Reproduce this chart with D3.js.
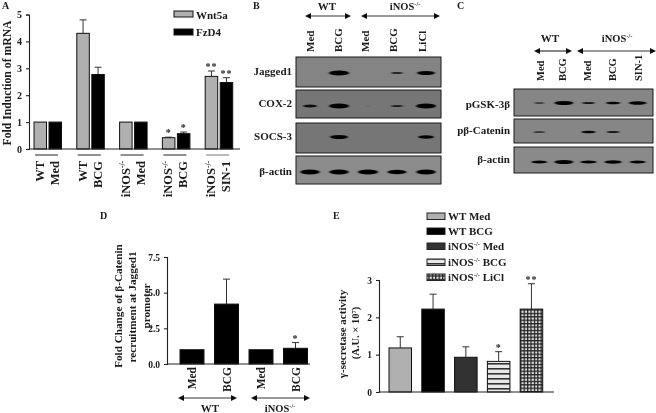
<!DOCTYPE html>
<html><head><meta charset="utf-8">
<script src="https://cdn.jsdelivr.net/npm/d3@7"></script>
<style>
html,body{margin:0;padding:0;background:#fff}
svg{display:block}
text{font-family:"Liberation Serif",serif;font-weight:bold;fill:#1a1a1a}
</style></head><body><svg id="c" width="656" height="413"></svg>
<script>
// Panel A
const groupsA = ["WT|Med","WT|BCG","iNOS|Med","iNOS|BCG","iNOS|SIN-1"];
const wnt5a = [1,4.3,1,0.42,2.7];
const wnt5aErr = [0,0.5,0,0.02,0.2];
const fzd4 = [1,2.77,1,0.57,2.47];
const fzd4Err = [0,0.27,0,0.06,0.18];
const starsWnt = ["","","","*","**"];
const starsFzd = ["","","","*","**"];
const ticksA = [0,1,2,3,4,5];
// Panel B blot intensities by lane
const lanesB = ["Med","BCG","Med","BCG","LiCl"];
const rowsB = ["Jagged1","COX-2","SOCS-3","β-actin"];
const jagged1 = [0,1,0,0.35,0.8];
const cox2 = [0.5,1,0.04,0.35,1];
const socs3 = [0,0.8,0,0,0.6];
const actinB = [0.95,0.95,1,0.9,0.95];
// Panel C blot intensities by lane
const lanesC = ["Med","BCG","Med","BCG","SIN-1"];
const rowsC = ["pGSK-3β","pβ-Catenin","β-actin"];
const pgsk = [0.3,1,0.45,0.55,0.85];
const pcat = [0.35,0,0.55,0.45,0];
const actinC = [0.7,1,0.75,0.8,0.7];
// Panel D
const lanesD = ["Med","BCG","Med","BCG"];
const valuesD = [1,4.2,1,1.1];
const errD = [0,1.75,0,0.4];
const starsD = ["","","","*"];
const ticksD = [0,2.5,5,7.5];
// Panel E
const seriesE = ["WT Med","WT BCG","iNOS Med","iNOS BCG","iNOS LiCl"];
const valuesE = [1.18,2.22,0.93,0.82,2.22];
const errE = [0.3,0.4,0.28,0.26,0.68];
const starsE = ["","","","*","**"];
const ticksE = [0,1,2,3];

const svg = d3.select("#c");
const defs = svg.append("defs");
const blur = (id,s)=>defs.append("filter").attr("id",id).attr("x","-40%").attr("y","-100%").attr("width","180%").attr("height","300%")
  .append("feGaussianBlur").attr("stdDeviation",s);
blur("b1","1.1 0.7"); 
defs.append("filter").attr("id","soft").attr("filterUnits","userSpaceOnUse").attr("x",0).attr("y",0).attr("width",656).attr("height",413)
  .append("feGaussianBlur").attr("stdDeviation",0.4);
const ph = defs.append("pattern").attr("id","hl").attr("width",6).attr("height",5).attr("patternUnits","userSpaceOnUse");
ph.append("rect").attr("width",6).attr("height",5).attr("fill","#e8e8e8");
ph.append("rect").attr("y",3).attr("width",6).attr("height",1.6).attr("fill","#333");
const pg = defs.append("pattern").attr("id","gr").attr("width",3.4).attr("height",3.4).attr("patternUnits","userSpaceOnUse");
pg.append("rect").attr("width",3.4).attr("height",3.4).attr("fill","#ddd");
pg.append("path").attr("d","M0 .6H3.4M.6 0V3.4").attr("stroke","#222").attr("stroke-width",1.3);
const root = svg.append("g").attr("filter","url(#soft)");

function label(g,x,y,s,size,anchor,rot){
  const t=g.append("text").attr("font-size",size).attr("text-anchor",anchor||"start")
   .attr("transform",`translate(${x},${y})`+(rot?` rotate(${rot})`:""));
  addRich(t,s,size); return t;
}
function addRich(t,s,size){
  const m=s.match(/^iNOS(.*)$/);
  if(m){
    t.append("tspan").text("iNOS");
    t.append("tspan").attr("font-size",size*0.6).attr("dy",-size*0.35).text("-/-");
    if(m[1]) t.append("tspan").attr("dy",size*0.35).text(m[1]);
  } else t.text(s);
}
function arrow(g,x1,x2,y){
  g.append("line").attr("x1",x1+3).attr("x2",x2-3).attr("y1",y).attr("y2",y).attr("stroke","#333").attr("stroke-width",1.2);
  g.append("path").attr("d",`M${x1} ${y}l6 -3v6zM${x2} ${y}l-6 -3v6z`).attr("fill","#111");
}
function bars(g,xs,y,vals,errs,fills,w,stars,starSize){
  vals.forEach((v,i)=>{
    const x=xs(i), b=y(0), t=y(v), e=y(v+errs[i]);
    if(errs[i]>0){
      g.append("line").attr("x1",x+w/2).attr("x2",x+w/2).attr("y1",t).attr("y2",e).attr("stroke","#333").attr("stroke-width",1);
      g.append("line").attr("x1",x+w/2-3.5).attr("x2",x+w/2+3.5).attr("y1",e).attr("y2",e).attr("stroke","#333").attr("stroke-width",1);
    }
    g.append("rect").attr("x",x).attr("y",t).attr("width",w).attr("height",b-t).attr("fill",fills[i]).attr("stroke","#111").attr("stroke-width",1);
    if(stars&&stars[i]) g.append("text").attr("x",x+w/2).attr("y",e-1).attr("text-anchor","middle").attr("font-size",starSize||11).attr("letter-spacing",1).text(stars[i]);
  });
}
function yAxis(g,x,y,ticks,fmt,size){
  const a=g.append("g").attr("transform",`translate(${x},0)`)
   .call(d3.axisLeft(y).tickValues(ticks).tickFormat(fmt).tickSize(3).tickPadding(4));
  a.selectAll("path,line").attr("stroke","#222").attr("stroke-width",1.1);
  a.selectAll("text").attr("font-size",size).attr("font-family",null);
}
function xLine(g,x1,x2,y0){
  g.append("line").attr("x1",x1).attr("x2",x2).attr("y1",y0).attr("y2",y0).attr("stroke","#222").attr("stroke-width",1.1);
}
function blot(g,x0,x1,y0,y1,cy,bg,vals,lane,maxW,maxH){
  g.append("rect").attr("x",x0).attr("y",y0).attr("width",x1-x0).attr("height",y1-y0).attr("fill",bg).attr("stroke","#1c1c1c").attr("stroke-width",1);
  vals.forEach((v,i)=>{
    if(v<=0) return;
    g.append("ellipse").attr("cx",lane(i)).attr("cy",cy).attr("rx",maxW*Math.sqrt(v)/2).attr("ry",maxH*Math.pow(v,0.8)/2)
     .attr("fill","#050505").attr("opacity",Math.min(1,0.4+v)).attr("filter","url(#b1)");
  });
}

// ---- Panel A
{
  const g=root.append("g");
  label(g,2,9,"A",10);
  const y=d3.scaleLinear().domain([0,5]).range([149,14.5]);
  const band=d3.scaleBand().domain(groupsA).range([34,248]).paddingInner(0).paddingOuter(0);
  const w=12.5, gap=15;
  bars(g,i=>band(groupsA[i]),y,wnt5a,wnt5aErr,wnt5a.map(()=>"#b0b0b0"),w,starsWnt,10);
  bars(g,i=>band(groupsA[i])+gap,y,fzd4,fzd4Err,fzd4.map(()=>"#000"),w,starsFzd,10);
  yAxis(g,29,y,ticksA,d3.format("d"),10);
  xLine(g,29,240,149);
  groupsA.forEach((k,i)=>{
    const [a,b]=k.split("|"), x=band(k);
    g.append("line").attr("x1",x+1).attr("x2",x+24).attr("y1",155).attr("y2",155).attr("stroke",i==4?"#777":"#222").attr("stroke-width",1);
    label(g,x+10,161,a,12.5,"end",-90);
    label(g,x+25,161,b,12.5,"end",-90);
  });
  label(g,11,83,"Fold Induction of mRNA",11.7,"middle",-90);
  g.append("rect").attr("x",174).attr("y",11).attr("width",19).attr("height",6).attr("fill","#b0b0b0").attr("stroke","#111");
  g.append("rect").attr("x",174).attr("y",29).attr("width",19).attr("height",6).attr("fill","#000").attr("stroke","#111");
  label(g,196,19,"Wnt5a",11); label(g,196,36,"FzD4",11);
}
// ---- Panel B
{
  const g=root.append("g");
  label(g,253,9,"B",10);
  const lane=d3.scaleBand().domain(d3.range(5)).range([295.5,440.5]).padding(0);
  const lx=i=>lane(i)+lane.bandwidth()/2;
  label(g,327,10,"WT",11,"middle"); label(g,405,10,"iNOS",10.5,"middle");
  arrow(g,305,351,16); arrow(g,361,440,16);
  const lbx=[314,342,369,397,426];
  lanesB.forEach((t,i)=>label(g,lbx[i],52,t,11,"start",-90));
  const rows=[[57,87,73,"#848484",jagged1,75],[90,118,106,"#767676",cox2,107],[123,153,137,"#767676",socs3,140],[156,184,172,"#8c8c8c",actinB,175]];
  rows.forEach((r,i)=>{
    blot(g,296,441,r[0],r[1],r[2],r[3],r[4],lx,20,5);
    label(g,292,r[5],rowsB[i],11,"end");
  });
}
// ---- Panel C
{
  const g=root.append("g");
  label(g,457,9,"C",10);
  const lane=d3.scaleBand().domain(d3.range(5)).range([527,650]).padding(0);
  const lx=i=>lane(i)+lane.bandwidth()/2;
  label(g,550,42,"WT",11,"middle"); label(g,617,42,"iNOS",10.5,"middle");
  arrow(g,534,572,51); arrow(g,577,656,51);
  const lbx=[544,566,591,616,642];
  lanesC.forEach((t,i)=>label(g,lbx[i],81,t,10.5,"start",-90));
  const rows=[[89,116,103,"#868686",pgsk,108],[119,143,132,"#868686",pcat,134],[147,173,162,"#8a8a8a",actinC,163]];
  rows.forEach((r,i)=>{
    blot(g,514,653,r[0],r[1],r[2],r[3],r[4],lx,19,4);
    label(g,510,r[5],rowsC[i],11,"end");
  });
}
// ---- Panel D
{
  const g=root.append("g");
  label(g,100,219,"D",10);
  const y=d3.scaleLinear().domain([0,7.5]).range([364,257]);
  const band=d3.scaleBand().domain(d3.range(4)).range([180,318]).padding(0);
  bars(g,i=>band(i),y,valuesD,errD,valuesD.map(()=>"#000"),24,starsD,10);
  yAxis(g,167,y,ticksD,d3.format(".1f"),9.5);
  xLine(g,167,310,364);
  lanesD.forEach((t,i)=>label(g,band(i)+16,367,t,11.5,"end",-90));
  arrow(g,178,237,398); arrow(g,251,310,398);
  label(g,210,412,"WT",11,"middle"); label(g,280,412,"iNOS",10.5,"middle");
  label(g,122,306,"Fold Change of β-Catenin",11.2,"middle",-90);
  label(g,136,307,"recruitment at Jagged1",11.2,"middle",-90);
  label(g,150,306,"promoter",11.2,"middle",-90);
}
// ---- Panel E
{
  const g=root.append("g");
  label(g,333,219,"E",10);
  const y=d3.scaleLinear().domain([0,3]).range([392,280]);
  const band=d3.scaleBand().domain(seriesE).range([389,553]).padding(0);
  const fills=["#b0b0b0","#000","#333","url(#hl)","url(#gr)"];
  bars(g,i=>band(seriesE[i]),y,valuesE,errE,fills,22.5,starsE,10);
  yAxis(g,379,y,ticksE,d3.format("d"),9.5);
  xLine(g,379,554,392);
  seriesE.forEach((s,i)=>{
    const ly=[213,228,243,259,274][i];
    g.append("rect").attr("x",427).attr("y",ly).attr("width",18).attr("height",6.5).attr("fill",fills[i]).attr("stroke","#222");
    label(g,448,ly+7,s,11);
  });
  label(g,346,334,"γ-secretase activity",11,"middle",-90);
  const t=label(g,359,333,"(A.U. × 10",10.5,"middle",-90);
  t.append("tspan").attr("font-size",6.5).attr("dy",-3).text("7");
  t.append("tspan").attr("dy",3).text(")");
}
</script></body></html>
